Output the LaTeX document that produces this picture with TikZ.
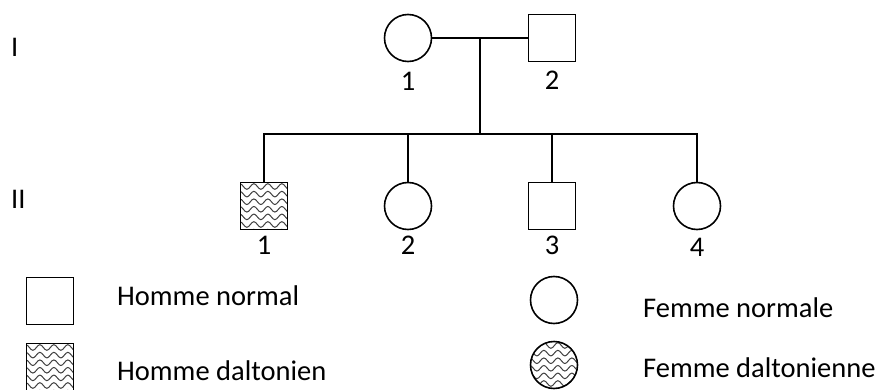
\documentclass[tikz,border=0pt]{standalone}
\usepackage{fontspec}
\setmainfont{Carlito}
\usetikzlibrary{positioning,decorations.pathmorphing}

\tikzset{
	trait/.style={line width=1.6pt},
	homme/.style={draw, line width=1.6pt, rectangle, minimum size=47pt, inner sep=0pt},
	femme/.style={draw, line width=1.6pt, circle, minimum size=47pt, inner sep=0pt},
	vague/.style={draw=black!75, line width=1pt, decorate,
		decoration={snake, amplitude=2.8pt, segment length=14pt}},
	atteint/.style={path picture={
			\foreach \k in {0,...,7}
			\draw[vague] ([xshift=-5pt,yshift={-(4+7.6*\k)*1pt}]path picture bounding box.north west) -- ++(70,0);
		}},
	num/.style={inner sep=0pt},
	texte/.style={anchor=base west, inner sep=0pt}
}

\begin{document}
\begin{tikzpicture}[x=1pt, y=-1pt, font=\fontsize{28.5}{34}\selectfont]
		 	\useasboundingbox (0,0) rectangle (885,390);
		 	
		 	% generations
		 	\node[texte] (gI) at (11,57) {I};
		 	\node[texte] (gII) at (11,208) {II};
		 	
		 	% generation I
		 	\node[femme] (i1) at (408,38) {};
		 	\node[homme] (i2) at (552,38) {};
		 	\node[num, below=10pt of i1] (n11) {1};
		 	\node[num, below=9pt of i2] (n12) {2};
		 	\draw[trait] (i1) -- (i2);
		 	\path (i1) -- (i2) coordinate[pos=0.5] (m);
		 	\coordinate (s) at (480,134);
		 	\draw[trait] (m) -- (s);
		 	
		 	% generation II
		 	\node[homme, atteint] (ii1) at (264,206) {};
		 	\node[femme] (ii2) at (408,206) {};
		 	\node[homme] (ii3) at (552,206) {};
		 	\node[femme] (ii4) at (697,206) {};
		 	\node[num, below=6pt of ii1] (n21) {1};
		 	\node[num, below=6pt of ii2] (n22) {2};
		 	\node[num, below=6pt of ii3] (n23) {3};
		 	\node[num, below=8pt of ii4] (n24) {4};
		 	\draw[trait] (ii1.north) -- (ii1.north |- s) -- (ii4.north |- s) -- (ii4.north);
		 	\foreach \n in {ii2, ii3}
		 	\draw[trait] (\n.north) -- (\n.north |- s);
		 	
		 	% legende
		 	\node[homme] (lh) at (50,301) {};
		 	\node[homme, atteint] (lha) at (50,367) {};
		 	\node[femme] (lf) at (554,300) {};
		 	\node[femme, atteint] (lfa) at (554,365) {};
		 	\node[texte] (tlh) at (117,305) {Homme normal};
		 	\node[texte] (tlha) at (117,380) {Homme daltonien};
		 	\node[texte] (tlf) at (643,317) {Femme normale};
		 	\node[texte] (tlfa) at (643,377) {Femme daltonienne};
		 	
\end{tikzpicture}
\end{document}
